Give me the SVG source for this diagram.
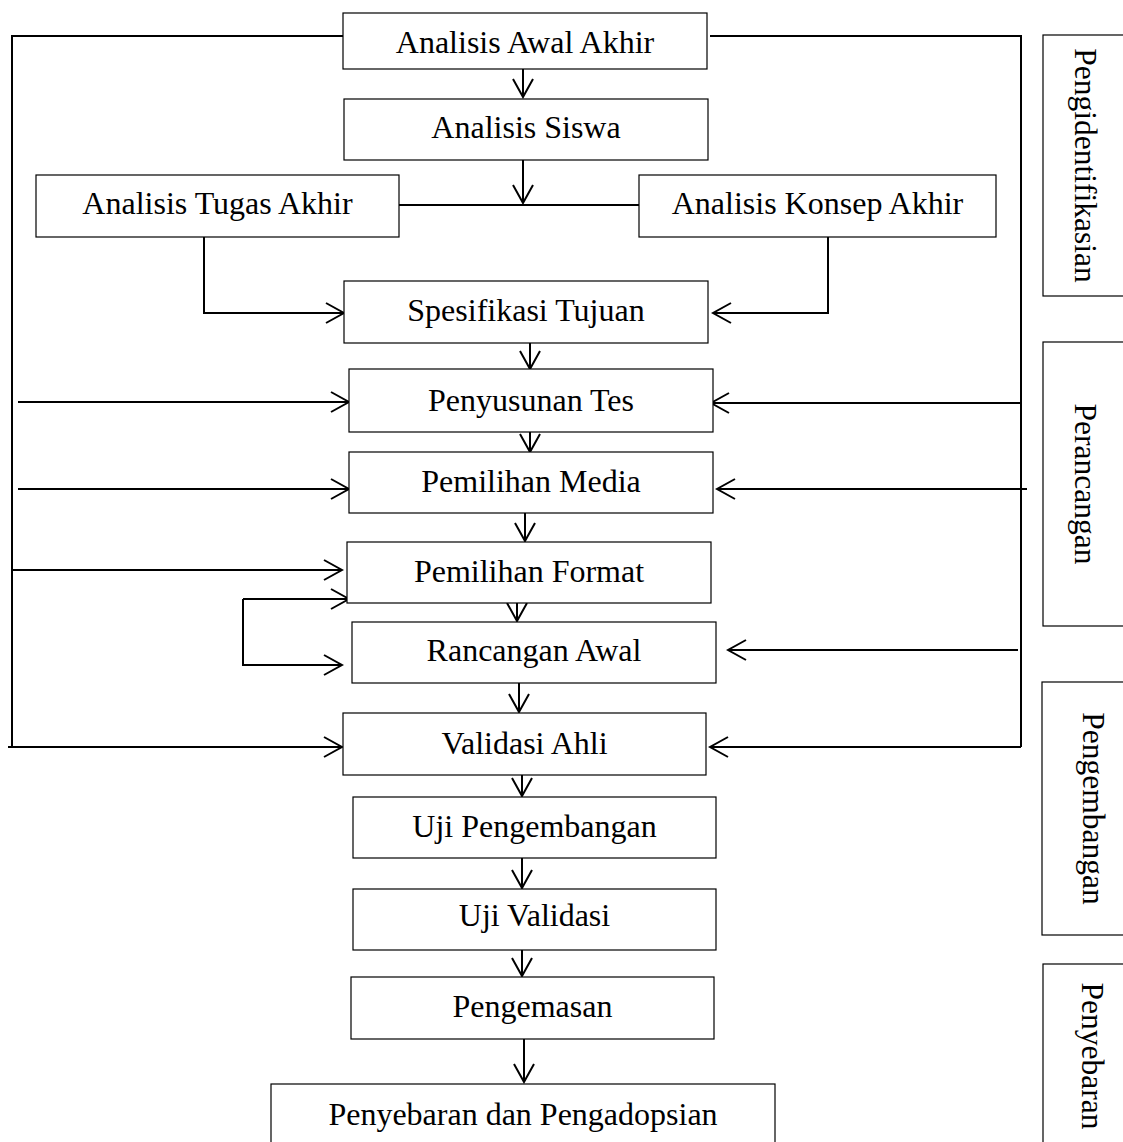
<svg xmlns="http://www.w3.org/2000/svg" width="1123" height="1142" viewBox="0 0 1123 1142">
<style>
.box{fill:#fff;stroke:#000;stroke-width:1.2}
.t{font-family:"Liberation Serif","Times New Roman",serif;font-size:32px;fill:#000;text-anchor:middle}
.s{font-size:31.5px}
.c{fill:none;stroke:#000;stroke-width:2}
.a{fill:none;stroke:#000;stroke-width:2;marker-end:url(#arr)}
</style>
<defs>
<marker id="arr" markerUnits="userSpaceOnUse" viewBox="-21 -12 23 24" markerWidth="23" markerHeight="24" refX="0" refY="0" orient="auto">
<path d="M-18,-10 L0,0 L-18,10" fill="none" stroke="#000" stroke-width="2"/>
</marker>
</defs>
<rect width="1123" height="1142" fill="#fff"/>
<g id="connectors">
<path class="c" d="M343,36 H12 V747"/>
<path class="a" d="M8,747 H342"/>
<path class="a" d="M18,402 H349"/>
<path class="a" d="M18,489 H349"/>
<path class="a" d="M12,570 H342"/>
<path class="a" d="M243,599 H349"/>
<path class="a" d="M243,599 V665 H342"/>
<path class="c" d="M710,36 H1021 V747"/>
<path class="a" d="M1021,747 H710"/>
<path class="a" d="M1020,403 H711"/>
<path class="a" d="M1027,489 H717"/>
<path class="a" d="M1018,650 H728"/>
<path class="a" d="M828,237 V313 H713"/>
<path class="a" d="M204,237 V313 H344"/>
<path class="a" d="M523,69 V97"/>
<path class="a" d="M523,160 V203"/>
<path class="c" d="M399,205 H639"/>
<path class="a" d="M530,343 V369"/>
<path class="a" d="M530,432 V452"/>
<path class="a" d="M525,513 V541"/>
<path class="a" d="M517,603 V621"/>
<path class="a" d="M519,683 V712"/>
<path class="a" d="M522,774 V796"/>
<path class="a" d="M522,858 V888"/>
<path class="a" d="M522,937 V976"/>
<path class="a" d="M524,1039 V1082"/>
</g>
<g id="n-awal"><rect class="box" x="343" y="13" width="364" height="56"/><text class="t" x="525" y="53">Analisis Awal Akhir</text></g>
<g id="n-siswa"><rect class="box" x="344" y="99" width="364" height="61"/><text class="t" x="526" y="138">Analisis Siswa</text></g>
<g id="n-tugas"><rect class="box" x="36" y="175" width="363" height="62"/><text class="t" x="217.5" y="214">Analisis Tugas Akhir</text></g>
<g id="n-konsep"><rect class="box" x="639" y="175" width="357" height="62"/><text class="t" x="817.5" y="214">Analisis Konsep Akhir</text></g>
<g id="n-spesifikasi"><rect class="box" x="344" y="281" width="364" height="62"/><text class="t" x="526" y="321">Spesifikasi Tujuan</text></g>
<g id="n-penyusunan"><rect class="box" x="349" y="369" width="364" height="63"/><text class="t" x="531" y="411">Penyusunan Tes</text></g>
<g id="n-media"><rect class="box" x="349" y="452" width="364" height="61"/><text class="t" x="531" y="492">Pemilihan Media</text></g>
<g id="n-format"><rect class="box" x="347" y="542" width="364" height="61"/><text class="t" x="529" y="582">Pemilihan Format</text></g>
<g id="n-rancangan"><rect class="box" x="352" y="622" width="364" height="61"/><text class="t" x="534" y="661">Rancangan Awal</text></g>
<g id="n-validasi"><rect class="box" x="343" y="713" width="363" height="62"/><text class="t" x="524.5" y="754">Validasi Ahli</text></g>
<g id="n-ujipeng"><rect class="box" x="353" y="797" width="363" height="61"/><text class="t" x="534.5" y="837">Uji Pengembangan</text></g>
<g id="n-ujival"><rect class="box" x="353" y="889" width="363" height="61"/><text class="t" x="534.5" y="926">Uji Validasi</text></g>
<g id="n-pengemasan"><rect class="box" x="351" y="977" width="363" height="62"/><text class="t" x="532.5" y="1017">Pengemasan</text></g>
<g id="n-penyebaran"><rect class="box" x="271" y="1084" width="504" height="80"/><text class="t" x="523" y="1125">Penyebaran dan Pengadopsian</text></g>
<g id="s-identifikasi"><rect class="box" x="1043" y="35" width="100" height="261"/><text class="t s" transform="translate(1075,165.5) rotate(90)">Pengidentifikasian</text></g>
<g id="s-perancangan"><rect class="box" x="1043" y="342" width="100" height="284"/><text class="t s" transform="translate(1075,484) rotate(90)">Perancangan</text></g>
<g id="s-pengembangan"><rect class="box" x="1042" y="682" width="100" height="253"/><text class="t s" transform="translate(1083,808.5) rotate(90)">Pengembangan</text></g>
<g id="s-penyebaran"><rect class="box" x="1043" y="964" width="100" height="200"/><text class="t s" transform="translate(1082,1056) rotate(90)">Penyebaran</text></g>
</svg>
